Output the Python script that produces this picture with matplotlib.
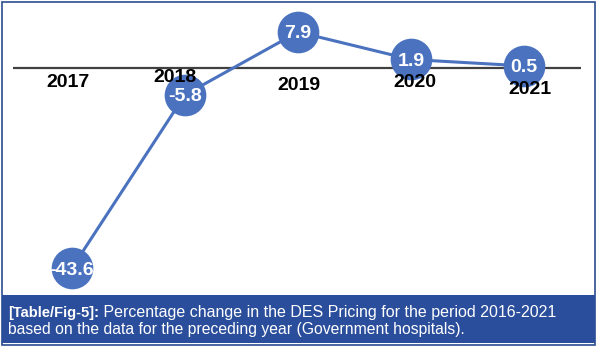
import matplotlib.pyplot as plt
from matplotlib.patches import Rectangle

# percentage change in DES pricing vs preceding year
years = ["2017", "2018", "2019", "2020", "2021"]
pct_change = [-43.6, -5.8, 7.9, 1.9, 0.5]

caption_bold = "[Table/Fig-5]:"
caption_rest = " Percentage change in the DES Pricing for the period 2016-2021"
caption_line2 = "based on the data for the preceding year (Government hospitals)."

W, H = 598, 347
fig = plt.figure(figsize=(W / 100, H / 100), dpi=100)
fig.patch.set_facecolor("white")

# outer frame and caption band
fig.patches.append(Rectangle((2 / W, 2 / H), 593 / W, 343 / H, transform=fig.transFigure,
                             fill=False, edgecolor="#2b4d8f", linewidth=1.2))
fig.patches.append(Rectangle((2 / W, 4 / H), 593 / W, 48 / H, transform=fig.transFigure,
                             facecolor="#2a4e9b", edgecolor="none"))

ax = fig.add_axes([13 / W, 57 / H, 568 / W, 280 / H])
x = list(range(len(years)))
ax.set_xlim(-0.522, 4.504)
ax.set_ylim(-48.4, 12.7)
ax.axis("off")

ax.axhline(0, color="#404040", linewidth=1.6, zorder=1)

blue = "#4a72bf"
ax.plot(x, pct_change, color=blue, linewidth=2.2, zorder=2)
ax.plot(x, pct_change, "o", color=blue, markersize=30, markeredgewidth=0, zorder=3, clip_on=False)

for xi, v in zip(x, pct_change):
    ax.text(xi, v, f"{v:.1f}", ha="center", va="center_baseline", color="white",
            fontsize=14, fontweight="bold", family="Liberation Sans", zorder=4)

# year labels sit just under the zero line, a little staggered
lab_dx = [-3, -7, 1, 3, 4]
lab_dy = [-10, -6.5, -12.5, -10, -15]
for xi, yr, dx, dy in zip(x, years, lab_dx, lab_dy):
    ax.annotate(yr, (xi, 0), xytext=(dx, dy), textcoords="offset points", ha="center", va="center",
                fontsize=14, fontweight="bold", family="Liberation Sans", color="black", zorder=5)

t1 = fig.text(8 / W, (H - 317) / H, caption_bold, color="white", fontsize=10.5, fontweight="bold",
              family="Liberation Sans", va="baseline")
fig.canvas.draw()
bb = t1.get_window_extent()
fig.text(bb.x1 / W, (H - 317) / H, caption_rest, color="white", fontsize=11.5,
         family="Liberation Sans", va="baseline")
fig.text(8 / W, (H - 334) / H, caption_line2, color="white", fontsize=11.3,
         family="Liberation Sans", va="baseline")

fig.savefig("out.png", dpi=100)
